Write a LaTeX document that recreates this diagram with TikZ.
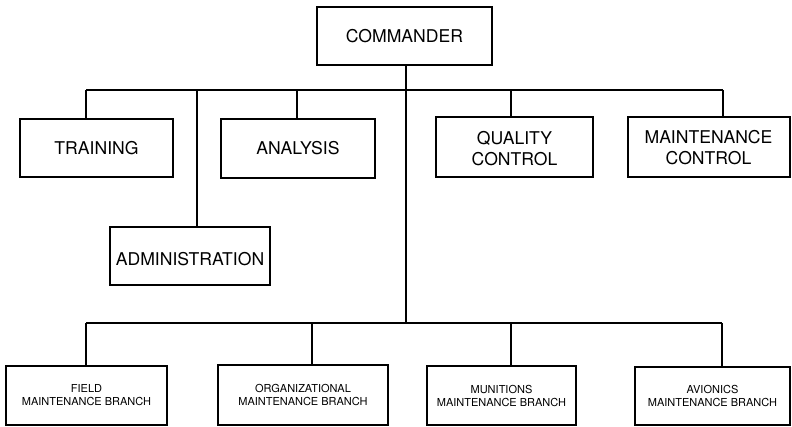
\documentclass[tikz,border=0pt]{standalone}
\usepackage{fontspec}
\setmainfont{TeX Gyre Heros}
% lower a label inside its box without changing the box size
\newcommand{\lowtext}[2]{\raisebox{-#1}[\height][\depth]{\begin{tabular}{@{}c@{}}#2\end{tabular}}}
\begin{document}
\begin{tikzpicture}[x=1pt,y=-1pt,
  box/.style={draw=black,line width=2pt,rectangle,inner sep=0pt,align=center,
              font=\fontsize{17.6}{21}\selectfont},
  smallbox/.style={box,font=\fontsize{11}{13}\selectfont},
  link/.style={draw=black,line width=2pt}]
\useasboundingbox (0,0) rectangle (792,427);

% upper level
\node[box,minimum width=175pt,minimum height=58pt] (commander) at (404.5,36) {COMMANDER};
\node[box,minimum width=153pt,minimum height=58pt] (training) at (96.5,148) {TRAINING};
\node[box,minimum width=154pt,minimum height=59pt] (analysis) at (298,148.5) {ANALYSIS};
\node[box,minimum width=157pt,minimum height=60pt] (quality) at (514.5,147) {\lowtext{4pt}{QUALITY\\CONTROL}};
\node[box,minimum width=162pt,minimum height=60pt] (mcontrol) at (708.5,147) {\lowtext{3pt}{MAINTENANCE\\CONTROL}};
\node[box,minimum width=160pt,minimum height=58pt] (admin) at (190,256) {\lowtext{5pt}{ADMINISTRATION}};

% branches
\node[smallbox,minimum width=161pt,minimum height=59pt] (field) at (86.5,395.5) {FIELD\\MAINTENANCE BRANCH};
\node[smallbox,minimum width=170pt,minimum height=60pt] (org) at (303,395) {ORGANIZATIONAL\\MAINTENANCE BRANCH};
\node[smallbox,minimum width=149pt,minimum height=59pt] (munitions) at (501.5,395.5) {MUNITIONS\\MAINTENANCE BRANCH};
\node[smallbox,minimum width=155pt,minimum height=58pt] (avionics) at (712.5,396) {AVIONICS\\MAINTENANCE BRANCH};

% bus points
\coordinate (trunkTop) at (406,90);
\coordinate (trunkBot) at (406,323);
\coordinate (tT) at (86,90);
\coordinate (tAd) at (197,90);
\coordinate (tAn) at (297,90);
\coordinate (tQ) at (511,90);
\coordinate (tM) at (723,90);
\coordinate (bF) at (86,323);
\coordinate (bO) at (312,323);
\coordinate (bMu) at (511,323);
\coordinate (bAv) at (722,323);

% trunk and buses
\draw[link] (commander.south -| trunkTop) -- (trunkBot);
\draw[link] (tT) -- (tM);
\draw[link] (bF) -- (bAv);

% drops
\draw[link] (tT) -- (tT |- training.north);
\draw[link] (tAd) -- (tAd |- admin.north);
\draw[link] (tAn) -- (tAn |- analysis.north);
\draw[link] (tQ) -- (tQ |- quality.north);
\draw[link] (tM) -- (tM |- mcontrol.north);
\draw[link] (bF) -- (bF |- field.north);
\draw[link] (bO) -- (bO |- org.north);
\draw[link] (bMu) -- (bMu |- munitions.north);
\draw[link] (bAv) -- (bAv |- avionics.north);
\end{tikzpicture}
\end{document}
